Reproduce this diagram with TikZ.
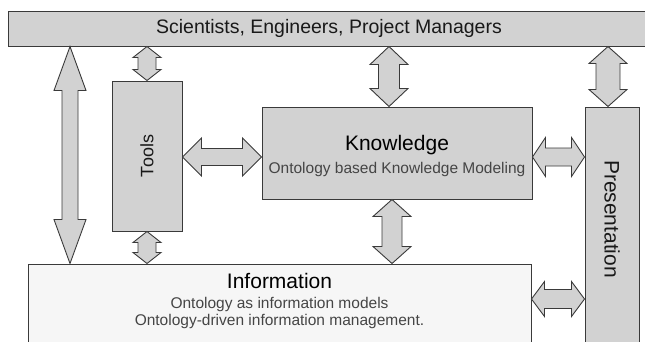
\documentclass[tikz,border=0pt]{standalone}
\usepackage{fontspec}
\setmainfont{Liberation Sans}
\usetikzlibrary{calc}

\definecolor{grigio}{HTML}{D2D2D2}
\definecolor{chiaro}{HTML}{F6F6F6}
\definecolor{bordo}{HTML}{3A3A3A}
\definecolor{sottotesto}{HTML}{454545}

\tikzset{
    blocco/.style={draw=bordo, fill=grigio, line width=1pt, inner sep=0pt, text=black!90},
    freccia/.style={draw=bordo, fill=grigio, line width=0.9pt, line join=miter},
    titolo/.style={font=\fontsize{21}{24}\selectfont},
    sotto/.style={font=\fontsize{15.5}{17.5}\selectfont, text=sottotesto},
}

% freccia doppia verticale: {alto}{basso}{mezzo gambo}{mezza punta}{lunghezza punta}
\newcommand{\frecciaV}[5]{%
    \path[freccia] let \p1=#1, \p2=#2 in
        (\x1,\y1) -- (\x1+#4,\y1-#5) -- (\x1+#3,\y1-#5) -- (\x1+#3,\y2+#5) -- (\x1+#4,\y2+#5)
        -- (\x1,\y2) -- (\x1-#4,\y2+#5) -- (\x1-#3,\y2+#5) -- (\x1-#3,\y1-#5) -- (\x1-#4,\y1-#5) -- cycle;}

% freccia doppia orizzontale: {sinistra}{destra}{mezzo gambo}{mezza punta}{lunghezza punta}
\newcommand{\frecciaH}[5]{%
    \path[freccia] let \p1=#1, \p2=#2 in
        (\x1,\y1) -- (\x1+#5,\y1+#4) -- (\x1+#5,\y1+#3) -- (\x2-#5,\y1+#3) -- (\x2-#5,\y1+#4)
        -- (\x2,\y1) -- (\x2-#5,\y1-#4) -- (\x2-#5,\y1-#3) -- (\x1+#5,\y1-#3) -- (\x1+#5,\y1-#4) -- cycle;}

\begin{document}
\begin{tikzpicture}[x=1pt,y=-1pt]
        \useasboundingbox (0,0) rectangle (645,341);
        \clip (0,0) rectangle (645,341);

        % Barra degli utenti
        \node[blocco, minimum width=642pt, minimum height=35pt, font=\fontsize{19.5}{22}\selectfont]
            (utenti) at (329,28.5) {Scientists, Engineers, Project Managers};

        % Blocchi
        \node[blocco, minimum width=70pt, minimum height=150pt] (tools) at (147,156)
            {\rotatebox{90}{\fontsize{18}{21}\selectfont Tools}};
        \node[blocco, minimum width=270pt, minimum height=92pt] (know) at (397,153) {};
        \node[titolo, inner sep=0pt] (knowtit) at (397,145) {Knowledge};
        \node[sotto, inner sep=0pt] (knowsub) at (397,169) {Ontology based Knowledge Modeling};
        \node[blocco, fill=chiaro, minimum width=503pt, minimum height=90pt] (info) at (279.5,309) {};
        \node[titolo, inner sep=0pt] (infotit) at (279.5,281) {Information};
        \node[sotto, align=center, inner sep=0pt] (infosub) at (279.5,313)
            {Ontology as information models\\Ontology-driven information management.};
        \node[blocco, minimum width=54pt, minimum height=243pt] (pres) at (612,228.5) {};
        \node[titolo, rotate=-90, inner sep=0pt, text=black!90] (prestit) at (612,219) {Presentation};

        % Assi delle frecce
        \coordinate (lato) at (70,150);
        \coordinate (knord) at ([xshift=-8pt]know.north);
        \coordinate (ksud) at ([xshift=-5pt]know.south);
        \coordinate (pnord) at ([xshift=-4pt]pres.north);
        \coordinate (test) at ([yshift=-1pt]tools.east);
        \coordinate (kest) at ([yshift=-4pt]know.east);
        \coordinate (iest) at ([yshift=10pt]info.east);

        % Frecce verticali
        \frecciaV{(utenti.south -| lato)}{(info.north -| lato)}{8pt}{16pt}{44pt}
        \frecciaV{(utenti.south -| tools.north)}{(tools.north)}{9pt}{14pt}{11pt}
        \frecciaV{(tools.south)}{(info.north -| tools.south)}{9pt}{14pt}{11pt}
        \frecciaV{(utenti.south -| knord)}{(knord)}{10.5pt}{19pt}{18pt}
        \frecciaV{(ksud)}{(info.north -| ksud)}{10pt}{19pt}{17pt}
        \frecciaV{(utenti.south -| pnord)}{(pnord)}{12pt}{19pt}{17pt}

        % Frecce orizzontali
        \frecciaH{(test)}{(know.west |- test)}{8.5pt}{19pt}{19pt}
        \frecciaH{(kest)}{(pres.west |- kest)}{9pt}{19.5pt}{13pt}
        \frecciaH{(iest)}{(pres.west |- iest)}{9.5pt}{17.5pt}{13pt}

\end{tikzpicture}
\end{document}
